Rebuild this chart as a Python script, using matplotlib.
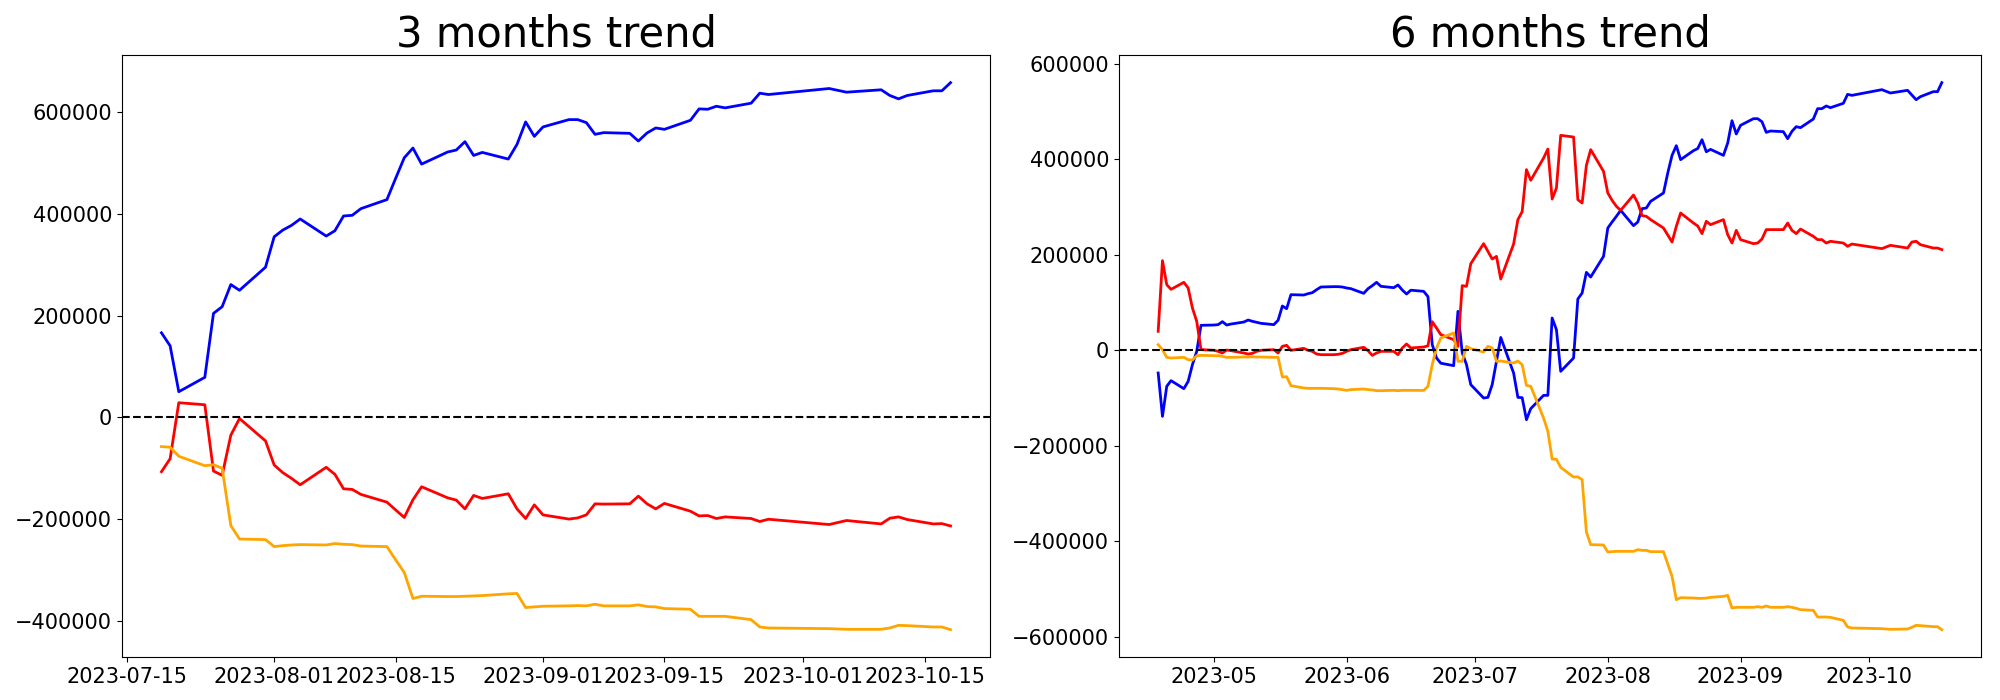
import numpy as np
import pandas as pd
import matplotlib
matplotlib.use('Agg')
import matplotlib.pyplot as plt
import matplotlib.dates as mdates

# trading days that are missing from the data around the October holiday
missing_days = ['2023-09-28', '2023-09-29', '2023-10-02', '2023-10-03', '2023-10-05', '2023-10-09']

# ---- 3 months trend ----
dates3 = pd.bdate_range('2023-07-19', '2023-10-18').drop(pd.to_datetime(missing_days))

blue3 = [166200, 140600, 50600, 78800, 204300, 217400, 260800, 249600, 294900,
         354600, 367800, 377000, 389500, 356000, 366400, 395400, 396700, 409800,
         427500, 468900, 509600, 528700, 497200, 520900, 524800, 541200, 514200,
         520100, 507100, 535800, 580000, 551600,
         570100, 584500, 584500, 578600, 555600, 558900, 557600, 542500, 558300,
         568100, 565400, 583100, 605500, 604800, 610700, 607500, 616700, 636300, 633700,
         645500, 638300, 643000, 631800, 625200, 631800, 641000, 641000, 657000]
red3 = [-106400, -80800, 29000, 25000, -105000, -113500, -34700, -2000, -45900,
        -93200, -108300, -119400, -132000, -97700, -111500, -139900, -141100, -150900,
        -166100, -181200, -196200, -161500, -135900, -157600, -162100, -179300, -152900,
        -158800, -149700, -179300, -198200, -171400,
        -191100, -199300, -197000, -191100, -169400, -169900, -169400, -154300, -169400,
        -179300, -168600, -183800, -193100, -192400, -198200, -195000, -198200, -204100, -199600,
        -210000, -202100, -208800, -197600, -195000, -200200, -208800, -208200, -212800]
orange3 = [-57100, -58300, -76000, -94600, -92600, -99700, -212000, -238400, -239600,
           -253300, -251400, -250100, -249400, -250100, -247400, -248700, -249400, -252200,
           -253300, -279000, -304000, -355200, -350700, -351300, -351300, -350700, -350100,
           -349400, -346000, -345300, -372900, -371600,
           -370300, -369600, -369000, -369600, -366400, -369600, -369600, -367600, -370900,
           -371600, -374900, -376200, -390100, -390100, -390100, -390100, -396600, -411000, -413000,
           -414300, -415600, -415600, -413000, -407800, -408400, -411000, -411000, -416300]

# ---- 6 months trend ----
dates6 = pd.bdate_range('2023-04-18', '2023-10-18').drop(pd.to_datetime(missing_days))

blue6 = [-47500, -138300, -75400, -63500, -80300, -65000, -30000, -2000, 52400,
         53000, 53800, 60100, 53000, 55100, 59300, 63500, 60800, 58700, 56600,
         53800, 62900, 92900, 87300, 116600, 115900, 118700, 120800, 127100, 132700,
         133400, 133400, 132700,
         130600, 129200, 119400, 129200, 135500, 142500, 134100, 131300, 136900, 126400,
         118000, 126000, 123600, 112500, 12000, -16000, -27000, -32100, 81700, -5000,
         -30000, -71900,
         -99900, -98500, -71900, -23000, 27000, -47500, -98500, -99200, -145300, -122200,
         -94300, -94300, 67700, 43300, -44000, -16100, 107500, 120100, 163400, 153600, 196900,
         256300, 268900, 280700, 293300, 261200, 268900, 296800, 298200, 312200, 329600,
         371500, 408500, 428800, 399500, 418300, 422800, 441300, 416000, 421000, 408500,
         434400, 481100, 453200,
         471400, 485300, 485300, 479000, 456700, 459500, 458100, 443400, 458800, 468600,
         466500, 484600, 506300, 506300, 511900, 508400, 517500, 536300, 534200,
         546100, 539100, 544700, 534900, 525100, 531400, 541900, 541900, 560800]
red6 = [39800, 187900, 137600, 127800, 142500, 130600, 88600, 60800, 1500,
        0, -2100, -5600, 700, -700, -5600, -7700, -6300, -2100, 0,
        1400, -5600, 8400, 10500, 0, 4200, 0, -2100, -7700, -9100,
        -9100, -8400, -6300,
        -2100, 1400, 6300, -700, -10500, -5600, -2100, -2100, -9100, 4900,
        13300, 4900, 7000, 9500, 60000, 46700, 32900, 22400, 8400, 135500,
        134100, 181600,
        223500, 207400, 191300, 196900, 149400, 222700, 273800, 290600, 378600, 356200,
        402900, 421700, 317000, 340000, 450400, 446900, 315700, 308600, 387600, 420500, 375000,
        329600, 314300, 301700, 293300, 325400, 308600, 282200, 280700, 273800, 256300,
        241600, 226900, 259800, 287700, 266700, 260500, 244500, 270300, 263300, 273800,
        242400, 224800, 251400,
        231900, 223500, 224800, 233200, 252900, 252900, 252900, 266700, 251400, 244500,
        254100, 238800, 231900, 231900, 224800, 228400, 224800, 217900, 222700,
        213100, 220000, 214300, 226900, 228400, 221400, 214300, 214300, 211000]
orange6 = [11900, 1400, -14700, -16100, -14700, -19600, -20300, -11200, -10500,
           -11200, -11200, -12600, -14700, -14700, -14000, -14000, -13500, -14000, -14000,
           -14700, -14700, -55900, -55200, -74000, -78900, -79600, -79600, -79600, -79600,
           -80300, -80900, -82300,
           -83800, -82300, -81000, -82300, -83000, -84500, -84500, -83800, -84500, -83800,
           -83800, -83800, -84000, -75400, -30000, 4900, 25800, 36300, -23000, -23000,
           8400, 3500,
           -3500, 8400, 4900, -23000, -22400, -26600, -22400, -30000, -73300, -75400,
           -141800, -169700, -227700, -228400, -245100, -265400, -265000, -270900, -380600,
           -407100, -407800,
           -422500, -421800, -421100, -421100, -421100, -417600, -419000, -419000, -421800,
           -421800, -447600, -473500, -522400, -518200, -518900, -519500, -519600, -519000,
           -517500, -515400, -513300, -539800, -538400,
           -538400, -538400, -537000, -538400, -535600, -538400, -538400, -537000, -538400,
           -540500, -543300, -544700, -558700, -558700, -558700, -559400, -565700, -579600,
           -581700,
           -583100, -584500, -583800, -580300, -576100, -576800, -578900, -578900, -585200]

fig, (ax1, ax2) = plt.subplots(1, 2, figsize=(20, 7), dpi=100)
ax1.set_position([0.061, 0.0614, 0.434, 0.8596])
ax2.set_position([0.5595, 0.0614, 0.431, 0.8596])

for ax, d, b, r, o, title in [(ax1, dates3, blue3, red3, orange3, '3 months trend'),
                               (ax2, dates6, blue6, red6, orange6, '6 months trend')]:
    ax.plot(d, b, color='blue', lw=2)
    ax.plot(d, r, color='red', lw=2)
    ax.plot(d, o, color='orange', lw=2)
    ax.axhline(0, color='black', ls='--', lw=1.5)
    ax.set_title(title, fontsize=30)
    ax.tick_params(labelsize=15)

ax1.xaxis.set_major_locator(mdates.DayLocator(bymonthday=[1, 15]))
ax1.xaxis.set_major_formatter(mdates.DateFormatter('%Y-%m-%d'))
ax2.xaxis.set_major_locator(mdates.MonthLocator())
ax2.xaxis.set_major_formatter(mdates.DateFormatter('%Y-%m'))

plt.savefig('out.png')
